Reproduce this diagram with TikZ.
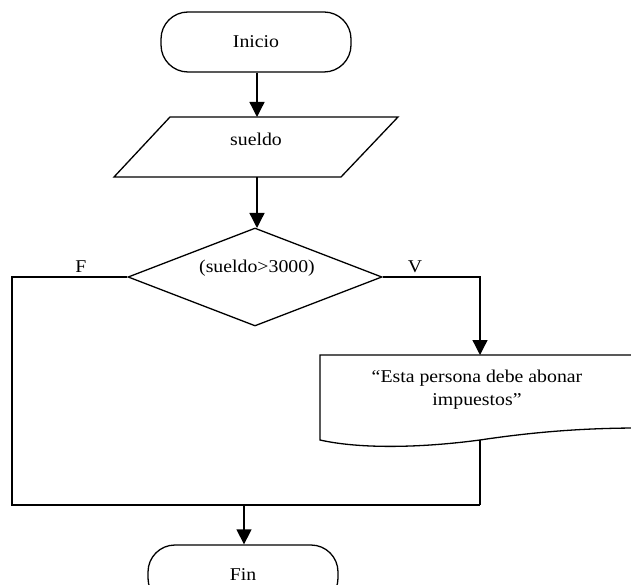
\documentclass[tikz,border=0pt]{standalone}
\usepackage{fontspec}
\setmainfont{Liberation Serif}[FakeStretch=1.1]
\usetikzlibrary{shapes.geometric,arrows.meta}
\begin{document}
\begin{tikzpicture}[x=1pt,y=-1pt,
  font=\fontsize{18}{23}\selectfont,
  line width=1.3pt,
  term/.style={draw, rectangle, rounded corners=27pt, minimum width=190pt, minimum height=60pt, inner sep=0pt},
  dec/.style={draw, diamond, minimum width=254pt, minimum height=98pt, inner sep=0pt, shape aspect=2.59},
  arr/.style={-{Triangle[length=15pt,width=15pt]}},
  lbl/.style={inner sep=0pt, anchor=base},
  txt/.style={inner sep=0pt, align=center}]
\useasboundingbox (0,0) rectangle (631,585);
\clip (0,0) rectangle (631,585);
% Inicio
\node[term] (inicio) at (256,42) {Inicio};
% input parallelogram
\draw (170,117) -- (398,117) -- (341,177) -- (114,177) -- cycle;
\node[txt] (sueldo) at (256,139) {sueldo};
\coordinate (inTop) at (257,117);
\coordinate (inBot) at (257,177);
% decision
\node[dec] (dec) at (255,277) {};
\node[txt] (cond) at (257,268) {(sueldo>3000)};
\coordinate (decTop) at (257,228);
% display
\draw (640,355) -- (320,355) -- (320,440)
  .. controls (360,449) and (420,448) .. (480,440)
  .. controls (540,431) and (590,428) .. (640,428);
\node[txt] (msg) at (477,390) {“Esta persona debe abonar\\impuestos”};
\coordinate (dispTop) at (480,355);
\coordinate (dispBot) at (480,440);
% join
\coordinate (botL) at (12,505);
\coordinate (botR) at (480,505);
\coordinate (botM) at (244,505);
% Fin
\node[term] (fin) at (243,575) {Fin};
% connectors
\draw[arr] (inicio.south -| inTop) -- (inTop);
\draw[arr] (inBot) -- (decTop);
\draw (dec.west) -| (botL) -- (botR);
\draw[arr] (dec.east) -| (dispTop);
\draw (dispBot) -- (botR);
\draw[arr] (botM) -- (botM |- fin.north);
% labels
\node[lbl] (lf) at (81,272) {F};
\node[lbl] (lv) at (415,272) {V};
\end{tikzpicture}
\end{document}
